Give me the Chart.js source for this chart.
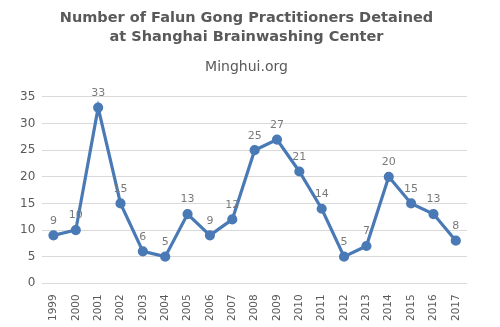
<!DOCTYPE html>
<html>
<head>
<meta charset="utf-8">
<script src="https://cdn.jsdelivr.net/npm/chart.js@4"></script>
<style>
  html, body { margin: 0; padding: 0; background: #fff; }
  #wrap { width: 500px; height: 327px; }
</style>
</head>
<body>
<div id="wrap"><canvas id="chart"></canvas></div>
<script>
const years = ["1999", "2000", "2001", "2002", "2003", "2004", "2005", "2006", "2007", "2008",
               "2009", "2010", "2011", "2012", "2013", "2014", "2015", "2016", "2017"];
const detained = [9, 10, 33, 15, 6, 5, 13, 9, 12, 25, 27, 21, 14, 5, 7, 20, 15, 13, 8];
const titleLines = ["Number of Falun Gong Practitioners Detained", "at Shanghai Brainwashing Center"];
const subtitleText = "Minghui.org";

// writes each value above its point
const valueLabels = {
    id: "valueLabels",
    afterDatasetsDraw(chart) {
        const ctx = chart.ctx;
        const meta = chart.getDatasetMeta(0);
        ctx.save();
        ctx.font = "11px 'DejaVu Sans'";
        ctx.fillStyle = "#7a7a7a";
        ctx.textAlign = "center";
        ctx.textBaseline = "bottom";
        meta.data.forEach((pt, i) => {
            ctx.fillText(String(detained[i]), pt.x, pt.y - 9);
        });
        ctx.restore();
    }
};

new Chart(document.getElementById("chart"), {
    type: "line",
    data: {
        labels: years,
        datasets: [{
            data: detained,
            borderColor: "#4a7ab5",
            backgroundColor: "#4a7ab5",
            borderWidth: 3.2,
            pointRadius: 3.5,
            pointHoverRadius: 3.5,
            tension: 0
        }]
    },
    options: {
        responsive: true,
        maintainAspectRatio: false,
        animation: false,
        layout: { padding: { left: 13, right: 20, top: 0, bottom: 3 } },
        plugins: {
            legend: { display: false },
            tooltip: { enabled: false },
            title: {
                display: true,
                text: titleLines,
                color: "#595959",
                font: { family: "'DejaVu Sans'", size: 14.5, weight: "bold", lineHeight: 1.35 },
                padding: { top: 8, bottom: 8 }
            },
            subtitle: {
                display: true,
                text: subtitleText,
                color: "#595959",
                font: { family: "'DejaVu Sans'", size: 14 },
                padding: { top: 4, bottom: 21 }
            }
        },
        scales: {
            x: {
                offset: true,
                grid: { display: false },
                border: { display: false },
                ticks: {
                    color: "#595959",
                    font: { family: "'DejaVu Sans'", size: 10.5 },
                    minRotation: 90,
                    maxRotation: 90,
                    padding: 3
                }
            },
            y: {
                min: 0,
                max: 35,
                ticks: {
                    stepSize: 5,
                    color: "#595959",
                    font: { family: "'DejaVu Sans'", size: 12 },
                    padding: 7
                },
                grid: { color: "#d9d9d9", drawTicks: false },
                border: { display: false }
            },
            // empty right-hand strip so the plot stops short of the edge
            gap: {
                position: "right",
                min: 0,
                max: 35,
                ticks: { display: false },
                grid: { display: false },
                border: { display: false },
                afterFit(scale) { scale.width = 13; }
            }
        }
    },
    plugins: [valueLabels]
});
</script>
</body>
</html>
